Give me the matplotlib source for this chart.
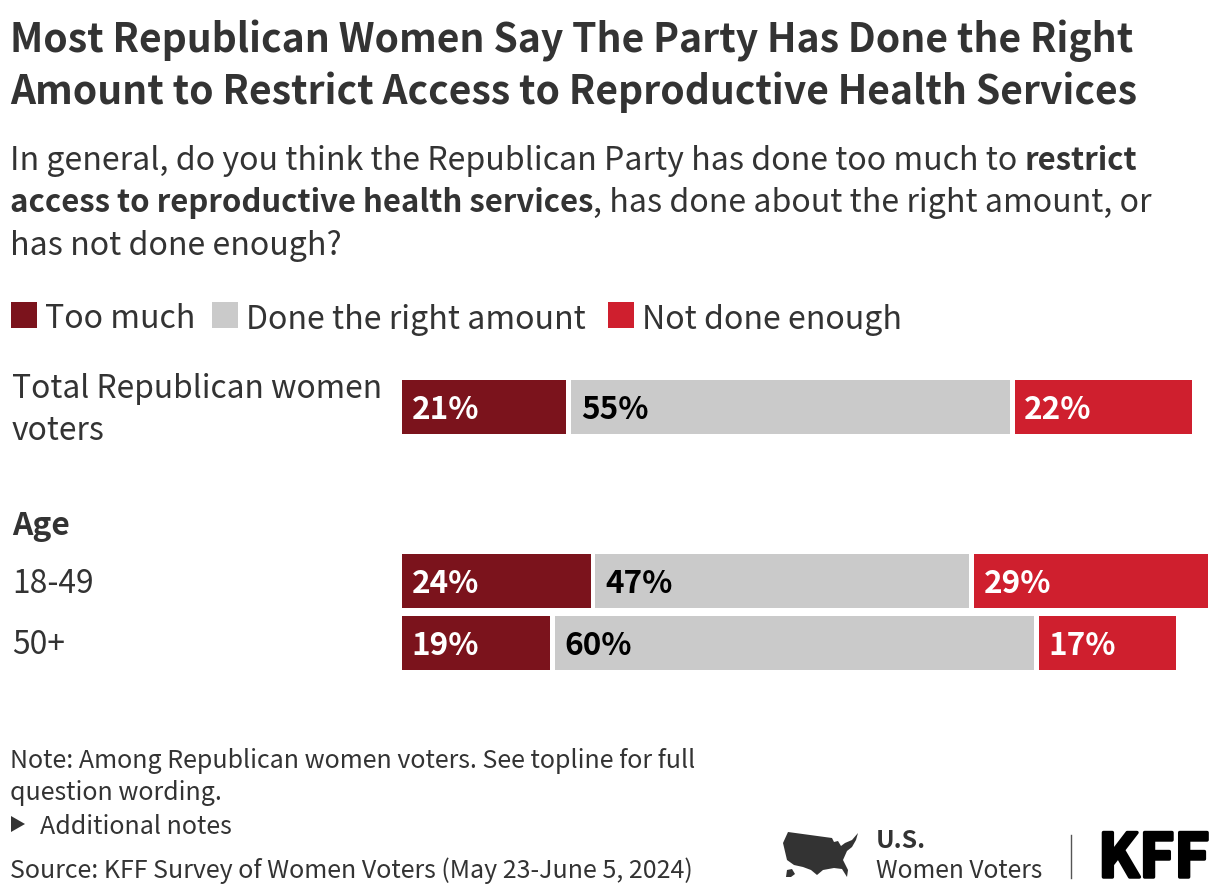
import matplotlib
matplotlib.use('Agg')
import matplotlib.pyplot as plt
import matplotlib.patheffects as pe
from matplotlib.patches import Polygon, Rectangle

plt.rcParams['font.family'] = ['Noto Sans CJK SC', 'DejaVu Sans']

# Data
groups = ['Total Republican women\nvoters', '18-49', '50+']
too_much = [21, 24, 19]
right_amount = [55, 47, 60]
not_enough = [22, 29, 17]
series_names = ['Too much', 'Done the right amount', 'Not done enough']
colors = ['#7b131c', '#cacaca', '#cf1f2e']
label_colors = ['white', 'black', 'white']
row_pos = [407, 581, 643]

W, H = 1220, 896
fig = plt.figure(figsize=(W / 100, H / 100), dpi=100)

# overlay in pixel coordinates, y going down
bg = fig.add_axes([0, 0, 1, 1])
bg.set_xlim(0, W)
bg.set_ylim(H, 0)
bg.axis('off')


def txt(x, y, s, px, color='#333333', weight='normal', **kw):
    return bg.text(x, y, s, fontsize=px * 0.72, color=color, weight=weight,
                   va='baseline', ha=kw.pop('ha', 'left'), **kw)


# Title
txt(10, 52, 'Most Republican Women Say The Party Has Done the Right', 39.1, weight='bold')
txt(10, 104, 'Amount to Restrict Access to Reproductive Health Services', 39.1, weight='bold')


# Subtitle, mixes regular and bold so measure each run
def runs(x, y, parts):
    rend = fig.canvas.get_renderer()
    for s, w in parts:
        t = txt(x, y, s, 31.1 if w == 'bold' else 32.1, weight=w)
        x = t.get_window_extent(rend).x1


runs(10, 170, [('In general, do you think the Republican Party has done too much to ', 'normal'),
               ('restrict', 'bold')])
runs(10, 212, [('access to reproductive health services', 'bold'),
               (', has done about the right amount, or', 'normal')])
runs(10, 255, [('has not done enough?', 'normal')])

# Legend
for x0, name, c in zip([11, 212, 608], series_names, colors):
    bg.add_patch(Rectangle((x0, 302), 26, 26, color=c, lw=0))
    txt(x0 + 34, 328.5, name, 32.1)

# Row labels
txt(12, 398, 'Total Republican women', 31.8)
txt(12, 440, 'voters', 31.8)
txt(12, 534.5, 'Age', 31.8, weight='bold')
txt(12, 593, groups[1], 31.8)
txt(12, 654, groups[2], 31.8)

# Bars
ax = fig.add_axes([402 / W, 0, 806 / W, 1])
ax.set_xlim(0, 100)
ax.set_ylim(H, 0)
ax.axis('off')
ax.patch.set_alpha(0)
gap = 0.6
for i, y in enumerate(row_pos):
    left = 0
    for j, (vals, c, lc) in enumerate(zip([too_much, right_amount, not_enough], colors, label_colors)):
        v = vals[i]
        ax.barh(y, v - (gap if j < 2 else 0), left=left, height=54, color=c, lw=0)
        ax.text(left + 1.2, y + 12, f'{v}%', color=lc, fontsize=31.5 * 0.72,
                weight='bold', va='baseline')
        left += v

# Notes
txt(10, 768, 'Note: Among Republican women voters. See topline for full', 25)
txt(10, 800, 'question wording.', 25)
bg.add_patch(Polygon([(11, 816), (25, 824), (11, 832)], color='#333333', lw=0))
txt(40, 834, 'Additional notes', 25)
txt(10, 878, 'Source: KFF Survey of Women Voters (May 23-June 5, 2024)', 25)

# Logo block
us_outline = [(788, 832), (810, 835), (832, 838), (834, 842), (838, 841), (841, 846), (845, 843),
              (852, 840), (858, 833), (856, 840), (852, 847), (847, 851), (843, 860), (848, 870),
              (847, 877), (842, 869), (834, 868), (823, 870), (817, 875), (811, 870), (803, 867),
              (794, 865), (787, 860), (783, 843)]
alaska = [(787, 870), (792, 869), (795, 874), (791, 877), (786, 877)]
bg.add_patch(Polygon(us_outline, color='#333333', lw=0))
bg.add_patch(Polygon(alaska, color='#333333', lw=0))
txt(876, 848, 'U.S.', 24.9, weight='bold')
txt(876, 878, 'Women Voters', 24.6)
bg.plot([1071, 1071], [835, 878], color='#555555', lw=1)
kff = txt(1098, 877, 'KFF', 60, color='black', weight='bold')
kff.set_path_effects([pe.withStroke(linewidth=2.5, foreground='black')])

fig.savefig('out.png', dpi=100)
